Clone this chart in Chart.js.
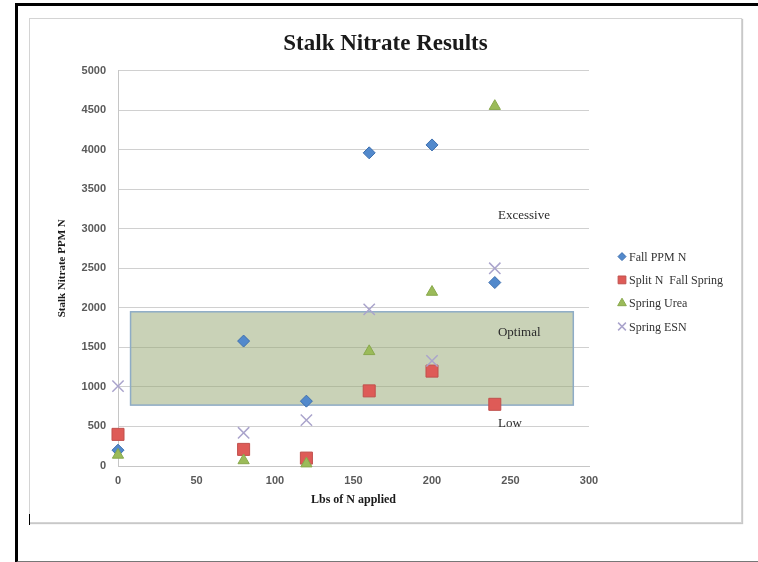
<!DOCTYPE html>
<html>
<head>
<meta charset="utf-8">
<script src="https://cdn.jsdelivr.net/npm/chart.js@4/dist/chart.umd.min.js"></script>
<style>
  html, body { margin: 0; padding: 0; background: #fff; }
  body { width: 758px; height: 562px; position: relative; overflow: hidden; }
  #outer { position: absolute; left: 15px; top: 3px; width: 743px; height: 555px;
           border-left: 3px solid #000; border-top: 3px solid #000; border-bottom: 2px solid #777; }
  #frame { position: absolute; left: 29px; top: 18px; width: 711px; height: 503px;
           border: 1px solid #d4d4d4; box-shadow: 1px 1px 1px #c8c8c8; }
  #caret { position: absolute; left: 29px; top: 514px; width: 1px; height: 11px; background: #000; }
  #wrap { position: absolute; left: 30px; top: 19px; width: 711px; height: 503px; }
</style>
</head>
<body>
<div id="outer"></div>
<div id="frame"></div>
<div id="wrap"><canvas id="chart"></canvas></div>
<div id="caret"></div>
<script>
// data
const nApplied = [0, 80, 120, 160, 200, 240];
const fallPPM = [200, 1580, 820, 3960, 4060, 2320];
const splitFallSpring = [400, 210, 100, 950, 1200, 780];
const springUrea = [140, 70, 30, 1450, 2200, 4550];
const springESN = [1010, 420, 580, 1980, 1330, 2500];
const seriesNames = ["Fall PPM N", "Split N  Fall Spring", "Spring Urea", "Spring ESN"];

// optimal band and zone captions (in data units)
const optimalX = [8, 290];
const optimalY = [770, 1950];
const zoneNames = ["Excessive", "Optimal", "Low"];
const zoneX = [242, 242, 242];
const zoneY = [3165, 1684, 532];

function toPoints(values) {
  return values.map((v, i) => ({ x: nApplied[i], y: v }));
}

const serif = "'Liberation Serif', 'Times New Roman', serif";
const sans = "'Liberation Sans', Arial, sans-serif";

const optimalBand = {
  id: "optimalBand",
  beforeDatasetsDraw(chart) {
    const { ctx, scales } = chart;
    const x1 = scales.x.getPixelForValue(optimalX[0]);
    const x2 = scales.x.getPixelForValue(optimalX[1]);
    const y1 = scales.y.getPixelForValue(optimalY[1]);
    const y2 = scales.y.getPixelForValue(optimalY[0]);
    ctx.save();
    ctx.fillStyle = "rgba(148,165,112,0.5)";
    ctx.fillRect(x1, y1, x2 - x1, y2 - y1);
    ctx.strokeStyle = "#8eacc6";
    ctx.lineWidth = 1.5;
    ctx.strokeRect(x1, y1, x2 - x1, y2 - y1);
    ctx.fillStyle = "#2b2b2b";
    ctx.font = "13px " + serif;
    ctx.textBaseline = "middle";
    ctx.textAlign = "left";
    zoneNames.forEach((name, i) => {
      ctx.fillText(name, scales.x.getPixelForValue(zoneX[i]), scales.y.getPixelForValue(zoneY[i]));
    });
    ctx.restore();
  }
};

const legendRadius = [4, 5.5, 5, 5.5];
const sideLegend = {
  id: "sideLegend",
  afterDraw(chart) {
    const { ctx, chartArea } = chart;
    ctx.save();
    ctx.font = "12px " + serif;
    ctx.textBaseline = "middle";
    ctx.textAlign = "left";
    chart.data.datasets.forEach((ds, i) => {
      const x = chartArea.right + 33;
      const y = chartArea.top + 186 + i * 23.3;
      ctx.fillStyle = ds.backgroundColor;
      ctx.strokeStyle = ds.borderColor;
      ctx.lineWidth = ds.borderWidth;
      Chart.helpers.drawPoint(ctx, {
        pointStyle: ds.pointStyle, radius: legendRadius[i], rotation: 0, borderWidth: ds.borderWidth
      }, x, y);
      ctx.fillStyle = "#333";
      ctx.fillText(ds.label, x + 7, y + 1);
    });
    ctx.restore();
  }
};

new Chart(document.getElementById("chart"), {
  type: "scatter",
  data: {
    datasets: [
      {
        label: seriesNames[0], data: toPoints(fallPPM), pointStyle: "rectRot", pointRadius: 6,
        backgroundColor: "#5289cc", borderColor: "#3d6fae", borderWidth: 1, order: 4
      },
      {
        label: seriesNames[1], data: toPoints(splitFallSpring), pointStyle: "rect", pointRadius: 8.5,
        backgroundColor: "#de5b57", borderColor: "#c0504d", borderWidth: 1, order: 3
      },
      {
        label: seriesNames[2], data: toPoints(springUrea), pointStyle: "triangle", pointRadius: 6.5,
        backgroundColor: "#9bbb59", borderColor: "#88a84c", borderWidth: 1, order: 2
      },
      {
        label: seriesNames[3], data: toPoints(springESN), pointStyle: "crossRot", pointRadius: 8,
        backgroundColor: "#aaa4cc", borderColor: "#aaa4cc", borderWidth: 1.5, order: 1
      }
    ]
  },
  options: {
    responsive: true,
    maintainAspectRatio: false,
    animation: false,
    events: [],
    clip: false,
    plugins: {
      legend: { display: false },
      tooltip: { enabled: false },
      title: {
        display: true,
        text: "Stalk Nitrate Results",
        color: "#1a1a1a",
        font: { family: serif, size: 23, weight: "bold" },
        padding: { top: 11, bottom: 13 }
      }
    },
    scales: {
      x: {
        type: "linear",
        min: 0,
        max: 300,
        ticks: { stepSize: 50, color: "#5a5a5a", font: { family: sans, size: 11, weight: "bold" }, padding: 8 },
        grid: { display: false, drawTicks: false },
        border: { display: true, color: "#c6c6c6" },
        title: {
          display: true,
          text: "Lbs of N applied",
          color: "#1a1a1a",
          font: { family: serif, size: 12, weight: "bold" },
          padding: { top: 0, bottom: 15 }
        },
        afterFit(scale) { scale.height = 56; }
      },
      y: {
        min: 0,
        max: 5000,
        ticks: {
          stepSize: 500, color: "#5a5a5a", font: { family: sans, size: 11, weight: "bold" }, padding: 12,
          callback: (v) => String(v)
        },
        grid: { color: "#d0d0d0", drawTicks: false },
        border: { display: true, color: "#c6c6c6" },
        title: {
          display: true,
          text: "Stalk Nitrate PPM N",
          color: "#1a1a1a",
          font: { family: serif, size: 11, weight: "bold" },
          padding: { top: 26, bottom: 0 }
        },
        afterFit(scale) { scale.width = 88; }
      },
      // empty right-hand box that keeps room for the legend
      legendSpace: {
        type: "linear",
        position: "right",
        display: true,
        ticks: { display: false },
        grid: { display: false, drawTicks: false },
        border: { display: false },
        afterFit(scale) { scale.width = 152; }
      }
    }
  },
  plugins: [optimalBand, sideLegend]
});
</script>
</body>
</html>
